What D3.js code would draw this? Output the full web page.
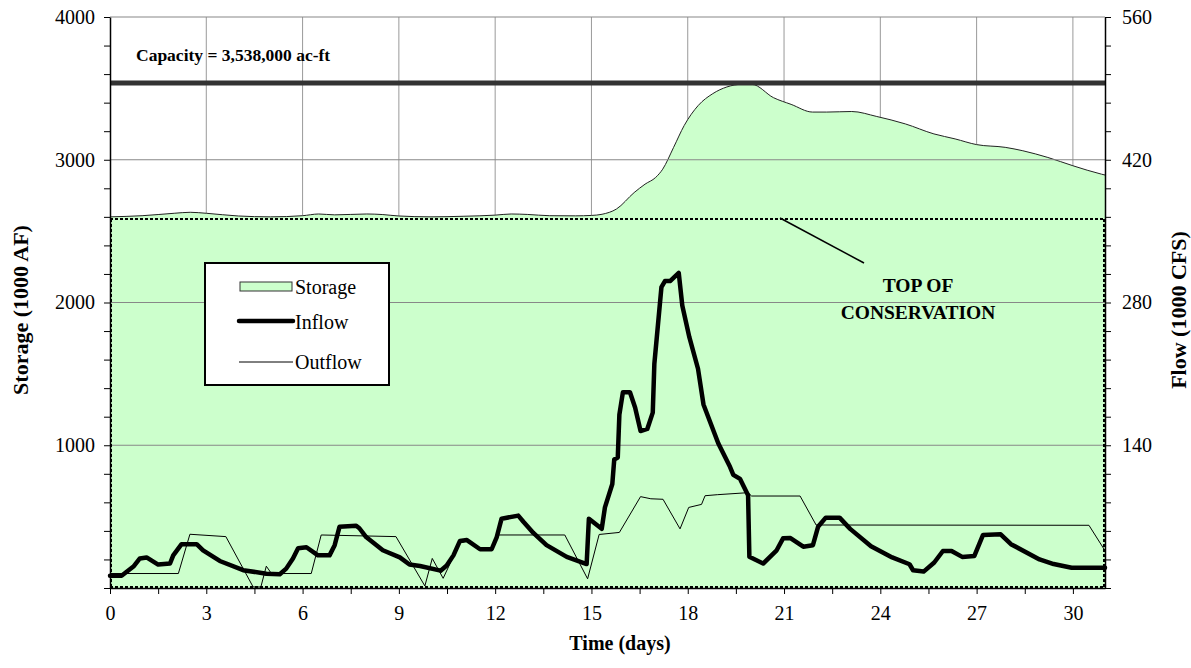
<!DOCTYPE html>
<html>
<head>
<meta charset="utf-8">
<script src="https://cdn.jsdelivr.net/npm/d3@7"></script>
<style>
  body { margin: 0; background: #fff; }
  svg { display: block; font-family: "Liberation Serif", "Times New Roman", serif; }
</style>
</head>
<body>
<div id="chart"></div>
<script>
// storage, 1000 AF
const storageDays = [0, 1, 2, 2.5, 3, 4, 5, 6, 6.5, 7, 8, 8.5, 9, 10, 11, 12, 12.5, 13, 13.7, 14.5, 15,
  15.33, 15.78, 16.33, 16.67, 17.0, 17.22, 17.56, 17.89, 18.33, 18.78, 19.22, 19.67, 20.0, 20.67, 21.22,
  21.89, 22.33, 23.11, 23.89, 24.78, 25.67, 26.33, 27.0, 27.89, 28.44, 29.22, 30.0, 30.89, 31];
const storage = [2600, 2608, 2625, 2632, 2625, 2606, 2600, 2608, 2620, 2614, 2620, 2616, 2606, 2600, 2604, 2612, 2620, 2617, 2608, 2607, 2610,
  2618, 2655, 2770, 2829, 2876, 2934, 3087, 3240, 3381, 3463, 3510, 3528, 3528, 3435, 3388,
  3334, 3334, 3338, 3303, 3251, 3181, 3146, 3106, 3087, 3063, 3016, 2958, 2899, 2893];

// inflow, 1000 CFS
const inflowDays = [0, 0.36, 0.73, 0.93, 1.14, 1.5, 1.87, 1.97, 2.23, 2.7, 2.9, 3.42, 4.15, 4.87, 5.29, 5.49, 5.7, 5.86,
  6.12, 6.48, 6.84, 7.0, 7.15, 7.67, 7.77, 7.98, 8.5, 9.03, 9.33, 9.66, 10.3, 10.49, 10.7, 10.9, 11.12, 11.53,
  11.89, 12.05, 12.2, 12.72, 12.88, 13.19, 13.6, 14.23, 14.85, 14.92, 15.32, 15.42, 15.65, 15.71, 15.82, 15.87,
  15.98, 16.2, 16.36, 16.53, 16.74, 16.91, 16.96, 17.18, 17.29, 17.45, 17.72, 17.83, 18.05, 18.32, 18.49, 18.95,
  19.3, 19.42, 19.63, 19.88, 19.92, 20.35, 20.77, 20.97, 21.2, 21.6, 21.9, 22.06, 22.3, 22.73, 23.06, 23.71,
  24.37, 24.91, 25.02, 25.35, 25.68, 25.95, 26.22, 26.55, 26.93, 27.2, 27.75, 28.07, 28.96, 29.4, 29.96, 31];
const inflow = [12, 12, 21, 29, 30, 23, 24, 32, 43, 43, 37, 26.5, 17.5, 14, 13.5, 19, 29, 39,
  40, 32, 32, 42, 60, 61, 58.6, 50, 37, 30, 23, 21.6, 17, 22, 32, 46, 47, 38,
  38, 50, 68, 71, 65, 54, 42, 30.5, 23.5, 68, 58, 79, 102, 126, 128, 170,
  192, 192, 177, 154, 156, 172, 220, 295, 301, 301, 309, 277, 246, 215, 180, 142,
  120, 111, 107, 91, 30.7, 24, 37, 48.7, 49, 40.5, 42, 60, 69, 69, 58, 41,
  30, 23.3, 17.4, 16.1, 25, 36.3, 36.3, 30.5, 31.4, 52, 52.7, 43, 28, 23.5, 19.9, 19.9];

// outflow, 1000 CFS
const outflowDays = [0, 2.13, 2.49, 3.61, 4.46, 4.7, 4.87, 5.03, 6.27, 6.58, 8.91, 9.81, 10.04, 10.38, 10.7, 10.9,
  11.1, 11.5, 11.9, 12.05, 14.17, 14.88, 15.24, 15.87, 16.53, 16.85, 17.23, 17.76, 18.03, 18.43, 18.54, 18.92,
  19.88, 19.99, 21.5, 22.0, 30.5, 31];
const outflow = [14.2, 14.2, 52.7, 50.4, 1, 1, 21.4, 14.2, 14.2, 52, 50.4, 2, 29, 9.5, 31, 44,
  46, 38, 38, 52, 52, 9, 52.5, 54.5, 89.6, 87.5, 87, 58, 79, 82, 90.5, 91.5,
  93.5, 90.2, 90.2, 61.8, 61.5, 36.6];

const capacity = 3538;      // 1000 ac-ft
const topConservation = 2585;

const xTicks = [0, 3, 6, 9, 12, 15, 18, 21, 24, 27, 30];
const storageTicks = [1000, 2000, 3000, 4000];
const flowTicks = [140, 280, 420, 560];

const W = 1191, H = 668;
const mLeft = 110, mRight = 1105, mTop = 17, mBottom = 588;

const svg = d3.select("#chart").append("svg")
  .attr("width", W).attr("height", H);

const x = d3.scaleLinear().domain([0, 31]).range([mLeft, mRight]);
const y = d3.scaleLinear().domain([0, 4000]).range([mBottom, mTop]);
const yf = d3.scaleLinear().domain([0, 560]).range([mBottom, mTop]);

// vertical grid (sits under the storage fill)
svg.append("g").selectAll("line")
  .data(xTicks.filter(d => d > 0))
  .join("line")
  .attr("x1", d => x(d)).attr("x2", d => x(d))
  .attr("y1", mTop).attr("y2", mBottom)
  .attr("stroke", "#999").attr("stroke-width", 1);

const sData = storageDays.map((d, i) => [d, storage[i]]);

svg.append("path")
  .datum(sData)
  .attr("fill", "#ccffcc")
  .attr("d", d3.area().x(d => x(d[0])).y0(mBottom).y1(d => y(d[1])).curve(d3.curveMonotoneX));

svg.append("path")
  .datum(sData)
  .attr("fill", "none").attr("stroke", "#222").attr("stroke-width", 1)
  .attr("d", d3.line().x(d => x(d[0])).y(d => y(d[1])).curve(d3.curveMonotoneX));

// horizontal grid
svg.append("g").selectAll("line")
  .data(storageTicks)
  .join("line")
  .attr("x1", mLeft).attr("x2", mRight)
  .attr("y1", d => y(d)).attr("y2", d => y(d))
  .attr("stroke", "#888").attr("stroke-width", 1.2);

// conservation pool outline
const cons = svg.append("g").attr("fill", "none").attr("stroke", "#000")
  .attr("stroke-width", 2).attr("stroke-dasharray", "3,2");
cons.append("line").attr("x1", mLeft).attr("x2", mRight).attr("y1", y(topConservation)).attr("y2", y(topConservation));
cons.append("line").attr("x1", mLeft + 1).attr("x2", mLeft + 1).attr("y1", y(topConservation)).attr("y2", mBottom);
cons.append("line").attr("x1", mRight - 1).attr("x2", mRight - 1).attr("y1", y(topConservation)).attr("y2", mBottom);
cons.append("line").attr("x1", mLeft).attr("x2", mRight).attr("y1", mBottom - 1).attr("y2", mBottom - 1);

// capacity line
svg.append("line")
  .attr("x1", mLeft).attr("x2", mRight)
  .attr("y1", y(capacity)).attr("y2", y(capacity))
  .attr("stroke", "#333").attr("stroke-width", 5);

const flowLine = d3.line().x(d => x(d[0])).y(d => yf(d[1]));

svg.append("path")
  .datum(outflowDays.map((d, i) => [d, outflow[i]]))
  .attr("fill", "none").attr("stroke", "#000").attr("stroke-width", 1)
  .attr("d", flowLine);

svg.append("path")
  .datum(inflowDays.map((d, i) => [d, inflow[i]]))
  .attr("fill", "none").attr("stroke", "#000").attr("stroke-width", 4.5)
  .attr("stroke-linejoin", "round").attr("stroke-linecap", "round")
  .attr("d", flowLine);

// axes
const tickFont = g => g.selectAll("text").attr("font-size", 20).attr("fill", "#000")
  .attr("font-family", "Liberation Serif, serif");

const xAxis = svg.append("g")
  .attr("transform", `translate(0,${mBottom})`)
  .call(d3.axisBottom(x).tickValues(d3.range(0, 31, 1.5)).tickSize(6).tickSizeOuter(0)
    .tickFormat(d => xTicks.includes(d) ? d : ""))
  .call(tickFont);
xAxis.selectAll("text").attr("dy", "1.15em");
xAxis.select(".domain").attr("stroke-width", 1.5);

const yAxis = svg.append("g")
  .attr("transform", `translate(${mLeft},0)`)
  .call(d3.axisLeft(y).tickValues(d3.range(0, 4001, 200)).tickSize(6).tickSizeOuter(0)
    .tickFormat(d => storageTicks.includes(d) ? d : ""))
  .call(tickFont);
yAxis.selectAll("text").attr("dx", "-0.3em");
yAxis.select(".domain").attr("stroke-width", 1.5);

const yAxisR = svg.append("g")
  .attr("transform", `translate(${mRight},0)`)
  .call(d3.axisRight(yf).tickValues(d3.range(0, 561, 28)).tickSize(6).tickSizeOuter(0)
    .tickFormat(d => flowTicks.includes(d) ? d : ""))
  .call(tickFont);
yAxisR.selectAll("text").attr("dx", "0.4em");
yAxisR.select(".domain").attr("stroke-width", 1.5);

// axis titles
svg.append("text")
  .attr("transform", `translate(620,650)`)
  .attr("text-anchor", "middle").attr("font-weight", "bold").attr("font-size", 20)
  .text("Time (days)");
svg.append("text")
  .attr("transform", `translate(28,310) rotate(-90)`)
  .attr("text-anchor", "middle").attr("font-weight", "bold").attr("font-size", 22)
  .text("Storage (1000 AF)");
svg.append("text")
  .attr("transform", `translate(1186,310) rotate(-90)`)
  .attr("text-anchor", "middle").attr("font-weight", "bold").attr("font-size", 22)
  .text("Flow (1000 CFS)");

// annotations
svg.append("text")
  .attr("x", 136).attr("y", 61)
  .attr("font-weight", "bold").attr("font-size", 17.5)
  .text("Capacity = 3,538,000 ac-ft");

svg.append("line")
  .attr("x1", 780).attr("y1", y(topConservation) - 1)
  .attr("x2", 864).attr("y2", 263)
  .attr("stroke", "#000").attr("stroke-width", 1.5);

const toc = svg.append("text")
  .attr("text-anchor", "middle").attr("font-weight", "bold").attr("font-size", 19.5);
toc.append("tspan").attr("x", 918).attr("y", 292).text("TOP OF");
toc.append("tspan").attr("x", 918).attr("y", 319).text("CONSERVATION");

// legend
const lg = svg.append("g");
lg.append("rect").attr("x", 205).attr("y", 263).attr("width", 184).attr("height", 122)
  .attr("fill", "#fff").attr("stroke", "#000").attr("stroke-width", 2);
lg.append("rect").attr("x", 240).attr("y", 282).attr("width", 52).attr("height", 9)
  .attr("fill", "#ccffcc").attr("stroke", "#333").attr("stroke-width", 1);
lg.append("line").attr("x1", 239).attr("x2", 293).attr("y1", 321).attr("y2", 321)
  .attr("stroke", "#000").attr("stroke-width", 4.5).attr("stroke-linecap", "round");
lg.append("line").attr("x1", 239).attr("x2", 293).attr("y1", 362).attr("y2", 362)
  .attr("stroke", "#000").attr("stroke-width", 1);
[["Storage", 287], ["Inflow", 322], ["Outflow", 362]].forEach(([t, ty]) => {
  lg.append("text").attr("x", 295).attr("y", ty).attr("dy", "0.35em")
    .attr("font-size", 20).text(t);
});
</script>
</body>
</html>
